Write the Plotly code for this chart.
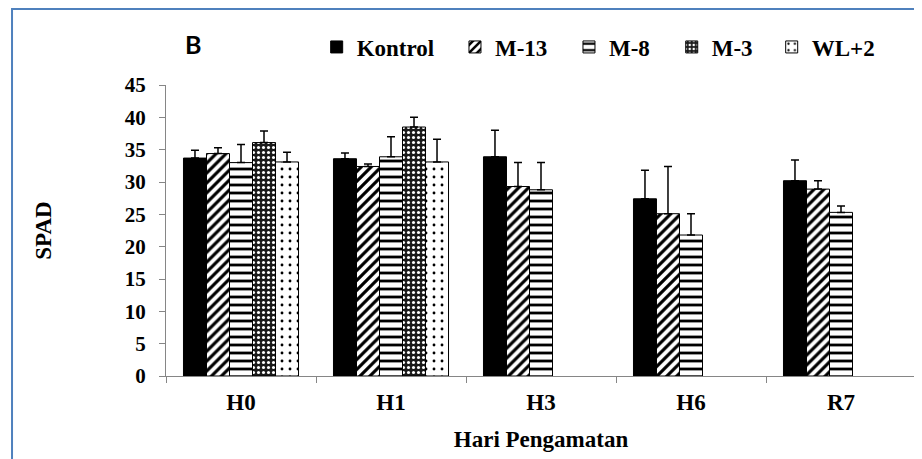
import plotly.graph_objects as go

categories = ["H0", "H1", "H3", "H6", "R7"]
series_names = ["Kontrol", "M-13", "M-8", "M-3", "WL+2"]

kontrol = [33.7, 33.6, 33.9, 27.4, 30.2]
kontrol_err = [1.2, 0.9, 4.1, 4.4, 3.2]
m13 = [34.4, 32.4, 29.3, 25.1, 28.9]
m13_err = [0.9, 0.4, 3.7, 7.3, 1.3]
m8 = [33.0, 33.9, 28.8, 21.8, 25.3]
m8_err = [2.8, 3.1, 4.2, 3.3, 1.0]
m3 = [36.1, 38.5, None, None, None]
m3_err = [1.8, 1.5, 0, 0, 0]
wl2 = [33.1, 33.1, None, None, None]
wl2_err = [1.5, 3.5, 0, 0, 0]

y_ticks = [0, 5, 10, 15, 20, 25, 30, 35, 40, 45]

values = [kontrol, m13, m8, m3, wl2]
errors = [kontrol_err, m13_err, m8_err, m3_err, wl2_err]

patterns = [
    dict(shape="", fillmode="replace"),
    dict(shape="/", fgcolor="black", bgcolor="white", size=7, solidity=0.45, fillmode="replace"),
    dict(shape="-", fgcolor="black", bgcolor="white", size=8, solidity=0.35, fillmode="replace"),
    dict(shape=".", fgcolor="white", bgcolor="#1a1a1a", size=5, solidity=0.3, fillmode="replace"),
    dict(shape=".", fgcolor="black", bgcolor="white", size=8, solidity=0.1, fillmode="replace"),
]
colors = ["black", "white", "white", "#1a1a1a", "white"]
legend_ids = ["legend", "legend2", "legend3", "legend4", "legend5"]
legend_x = [0.2009, 0.3853, 0.5373, 0.6743, 0.8076]

serif = "Liberation Serif, serif"

fig = go.Figure()
for name, vals, errs, pat, col, lid in zip(series_names, values, errors, patterns, colors, legend_ids):
    fig.add_trace(go.Bar(
        x=categories, y=vals, name="<b>" + name + "</b>", legend=lid,
        marker=dict(color=col, pattern=pat, line=dict(color="black", width=1)),
        error_y=dict(type="data", symmetric=False, array=errs,
                     arrayminus=[0] * len(errs), color="black",
                     thickness=1.5, width=4),
    ))

layout_legends = {}
for lid, lx in zip(legend_ids, legend_x):
    layout_legends[lid] = dict(
        x=lx, y=1.1306, xanchor="left", yanchor="middle",
        orientation="h", bgcolor="rgba(0,0,0,0)", itemwidth=30,
        font=dict(family=serif, size=23, color="black"),
    )

fig.update_layout(
    width=914, height=451,
    margin=dict(l=158, r=6, t=77, b=83, autoexpand=False),
    font=dict(family=serif, color="black"),
    paper_bgcolor="white", plot_bgcolor="white",
    barmode="group", bargap=0.233, bargroupgap=0,
    showlegend=True,
    **layout_legends,
    xaxis=dict(
        type="category", showline=True, linecolor="#868686", linewidth=1,
        ticks="outside", tickson="boundaries", ticklen=6, tickcolor="#868686",
        ticklabelstandoff=5,
        tickfont=dict(family=serif, size=23, color="black", weight="bold"),
        title=dict(text="Hari Pengamatan", standoff=17,
                   font=dict(family=serif, size=23, color="black", weight="bold")),
        showgrid=False, automargin=False,
    ),
    yaxis=dict(
        range=[0, 45], tickvals=y_ticks, showline=True, linecolor="#868686",
        linewidth=1, ticks="outside", ticklen=6, tickcolor="#868686",
        ticklabelstandoff=9,
        tickfont=dict(family=serif, size=21, color="black", weight="bold"),
        showgrid=False, zeroline=False, automargin=False,
        title=dict(text="SPAD", standoff=66,
                   font=dict(family=serif, size=23, color="black", weight="bold")),
    ),
    shapes=[dict(type="rect", xref="paper", yref="paper",
                 x0=-0.2053, x1=1.05, y0=-0.5, y1=1.261,
                 line=dict(color="#4F81BD", width=2), fillcolor="rgba(0,0,0,0)")],
    annotations=[dict(text="B", xref="paper", yref="paper",
                      x=(183 - 166) / 750, y=1 + (85 - 44) / 291,
                      xanchor="left", yanchor="middle", showarrow=False,
                      font=dict(family="Lato, Open Sans, sans-serif", size=25,
                                color="black", weight="bold"))],
)

fig.write_html("out.html")
